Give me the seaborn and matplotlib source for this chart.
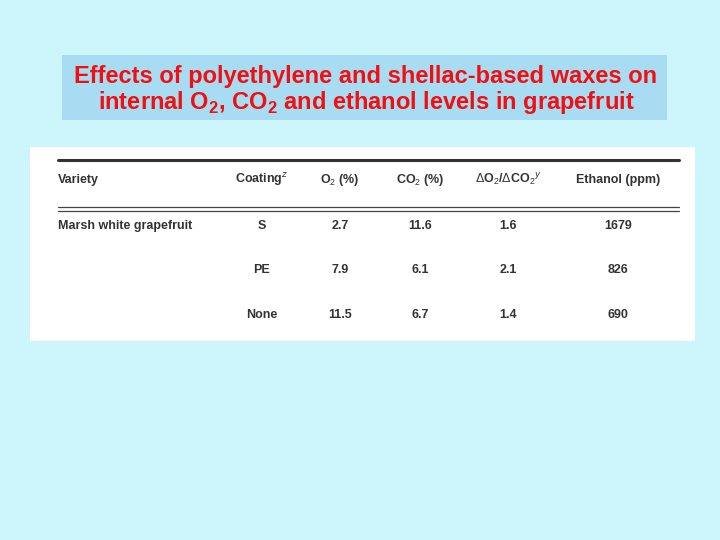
import matplotlib
matplotlib.use("Agg")
import matplotlib.pyplot as plt
import seaborn as sns
from matplotlib.patches import Rectangle

sns.set_style("white")
plt.rcParams['font.family'] = ['Liberation Sans', 'DejaVu Sans']
plt.rcParams['mathtext.fontset'] = 'custom'
plt.rcParams['mathtext.rm'] = 'Liberation Sans'
plt.rcParams['mathtext.bf'] = 'Liberation Sans:bold'

title1 = "Effects of polyethylene and shellac-based waxes on"
title2 = r"internal O$_{\mathbf{2}}$, CO$_{\mathbf{2}}$ and ethanol levels in grapefruit"
headers = ["Variety", r"Coating$^{z}$", r"O$_2$ (%)", r"CO$_2$ (%)", r"$\Delta$O$_2$/$\Delta$CO$_2$$^{y}$", "Ethanol (ppm)"]
variety = ["Marsh white grapefruit", "", ""]
coating = ["S", "PE", "None"]
o2 = ["2.7", "7.9", "11.5"]
co2 = ["11.6", "6.1", "6.7"]
ratio = ["1.6", "2.1", "1.4"]
ethanol = ["1679", "826", "690"]

fig = plt.figure(figsize=(7.2, 5.4), dpi=100)
fig.patch.set_facecolor("#ccf6fb")
ax = fig.add_axes([0, 0, 1, 1])
ax.set_xlim(0, 720); ax.set_ylim(540, 0); ax.axis("off")

ax.add_patch(Rectangle((62, 55), 605, 65, facecolor="#a8dcf2", edgecolor="none"))
ax.text(366, 76, title1, ha="center", va="center", color="#f01010", fontsize=17, fontweight="bold")
ax.text(366, 103, title2, ha="center", va="center", color="#f01010", fontsize=17, fontweight="bold")

ax.add_patch(Rectangle((30, 147), 665, 194, facecolor="white", edgecolor="none"))
ax.plot([58, 679], [160, 160], color="#333", lw=2.2)
ax.plot([58, 679], [207, 207], color="#444", lw=0.9)
ax.plot([58, 679], [211, 211], color="#444", lw=0.9)

colx = [58, 262, 340, 420, 508, 618]
aligns = ["left", "center", "center", "center", "center", "center"]
for x, h, a in zip(colx, headers, aligns):
    ax.text(x, 180, h, ha=a, va="center", fontsize=9, color="#333", fontweight="semibold")
rows_y = [226, 270, 315]
cols = [variety, coating, o2, co2, ratio, ethanol]
for i, y in enumerate(rows_y):
    for x, c, a in zip(colx, cols, aligns):
        ax.text(x, y, c[i], ha=a, va="center", fontsize=9, color="#333", fontweight="semibold")

fig.savefig("out.png", dpi=100, facecolor=fig.get_facecolor())
